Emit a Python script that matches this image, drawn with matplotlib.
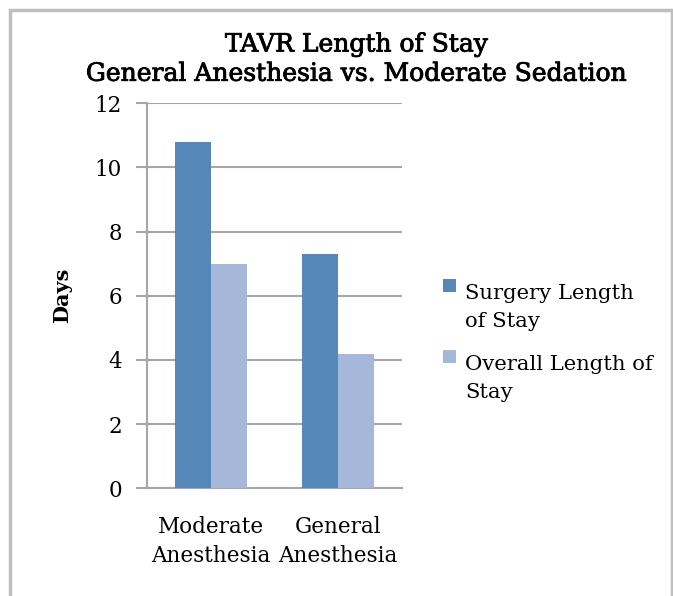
import matplotlib.pyplot as plt
from matplotlib.patches import Rectangle
from matplotlib.legend_handler import HandlerPatch
import matplotlib.patheffects as pe
import numpy as np

# Data
categories = ['Moderate\nAnesthesia', 'General\nAnesthesia']
surgery_los = [10.8, 7.3]
overall_los = [7.0, 4.2]
series_labels = ['Surgery Length\nof Stay', 'Overall Length of\nStay']
yticks = [0, 2, 4, 6, 8, 10, 12]

plt.rcParams['font.family'] = ['DejaVu Serif']

fig = plt.figure(figsize=(6.73, 5.96), dpi=100)
ax = fig.add_axes([0.2184, 0.1807, 0.3789, 0.646])

x = np.arange(len(categories))
w = 0.282
grid_c = '#A6A6A6'
b1 = ax.bar(x - w / 2, surgery_los, w, color='#5587B9', zorder=3)
b2 = ax.bar(x + w / 2, overall_los, w, color='#A5B8D9', zorder=3)

ax.set_xlim(-0.5, 1.5)
ax.set_ylim(0, 12)
ax.set_yticks(yticks)
ax.set_xticks(x)
ax.set_xticklabels(categories, fontsize=15.5, linespacing=1.4)
ax.tick_params(axis='y', labelsize=15.5, length=8, width=1.5, color=grid_c, pad=10)
ax.tick_params(axis='x', length=0, pad=20)
ax.yaxis.grid(True, color=grid_c, linewidth=1.5, zorder=0)
for s in ['top', 'right']:
    ax.spines[s].set_visible(False)
for s in ['left', 'bottom']:
    ax.spines[s].set_color(grid_c)
    ax.spines[s].set_linewidth(1.5)
ax.set_ylabel('Days', fontsize=15, fontweight='bold')
ax.yaxis.set_label_coords(-0.294, 0.5)

fig.text(0.53, 0.9, 'TAVR Length of Stay\nGeneral Anesthesia vs. Moderate Sedation',
         ha='center', va='center', fontsize=18, linespacing=1.35,
         path_effects=[pe.withStroke(linewidth=0.6, foreground='black')])


# legend square sits next to the first line of the label
def top_square(legend, orig_handle, xdescent, ydescent, width, height, fontsize):
    return Rectangle((-xdescent, -ydescent + 1.05 * fontsize), width, height)


h1, h2 = b1.patches[0], b2.patches[0]
fig.legend([h1, h2], series_labels, loc='upper left', bbox_to_anchor=(0.63, 0.556),
           frameon=False, fontsize=15.2, handlelength=0.6, handleheight=0.6,
           handletextpad=0.45, labelspacing=1.1,
           handler_map={h1: HandlerPatch(patch_func=top_square),
                        h2: HandlerPatch(patch_func=top_square)})
for t in fig.legends[0].get_texts():
    t.set_linespacing(1.65)

fig.patches.append(Rectangle((0.0149, -0.05), 0.984, 1.033, transform=fig.transFigure,
                             fill=False, edgecolor='#BFBFBF', linewidth=2.5))

fig.savefig('out.png', dpi=100)
